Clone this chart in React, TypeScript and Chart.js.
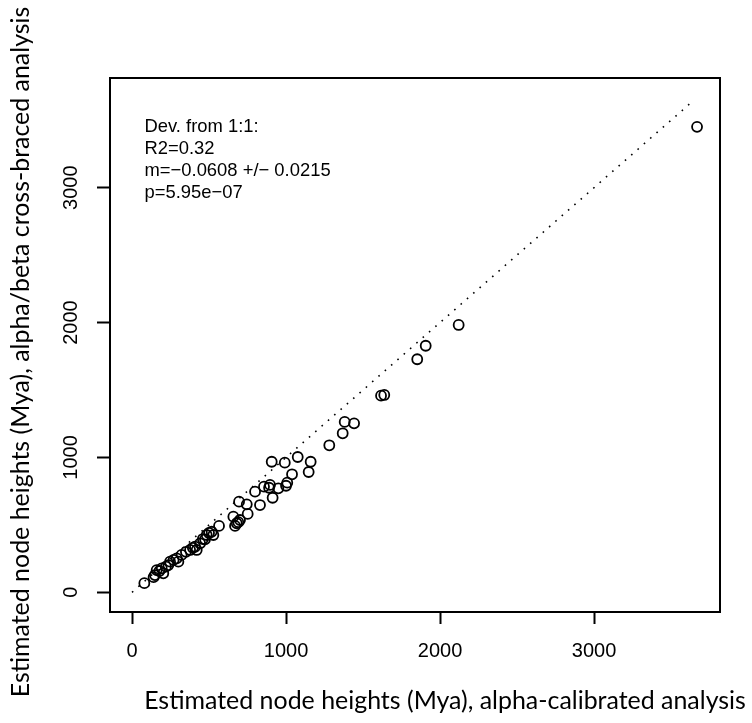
import React, { useEffect, useRef } from "react";
import { Chart, registerables } from "chart.js";

Chart.register(...registerables);

// alpha-calibrated node heights (x) vs alpha/beta cross-braced node heights (y), Mya
const X_VALUES = [
  80, 140, 149, 160, 178, 193, 203, 220, 236, 247, 270, 290, 301, 322, 350, 377,
  395, 420, 409, 442, 460, 474, 485, 528, 517, 500, 565, 658, 701, 680, 669, 690,
  695, 745, 751, 799, 831, 857, 890, 896, 907, 913, 950, 992, 1000, 1008, 1039,
  1076, 1147, 1160, 1281, 1368, 1381, 1442, 1617, 1638, 1852, 1907, 2121, 3669,
];
const Y_VALUES = [
  68, 112, 128, 165, 158, 178, 141, 190, 202, 227, 240, 252, 227, 277, 300, 314,
  330, 314, 338, 363, 395, 393, 425, 425, 449, 440, 492, 561, 536, 512, 492, 520,
  672, 652, 581, 746, 647, 783, 775, 796, 968, 701, 771, 961, 790, 813, 875,
  1003, 892, 968, 1090, 1179, 1263, 1253, 1458, 1463, 1728, 1828, 1982, 3451,
];
const ONE_TO_ONE = [0, 3650];
const TICKS = [0, 1000, 2000, 3000];
const X_RANGE = [-143, 3818];
const Y_RANGE = [-146, 3813];
const X_TITLE = "Estimated node heights (Mya), alpha-calibrated analysis";
const Y_TITLE = "Estimated node heights (Mya), alpha/beta cross-braced analysis";
const NOTE_LINES = ["Dev. from 1:1:", "R2=0.32", "m=\u22120.0608 +/\u2212 0.0215", "p=5.95e\u221207"];

const decor = {
  id: "decor",
  afterDraw(chart: any) {
    const { ctx, chartArea: a } = chart;
    ctx.save();
    ctx.strokeStyle = "#000";
    ctx.lineWidth = 2;
    ctx.strokeRect(a.left, a.top, a.right - a.left, a.bottom - a.top);

    ctx.fillStyle = "#000";
    ctx.font = '18.4px "Liberation Sans", Arial, sans-serif';
    ctx.textAlign = "left";
    ctx.textBaseline = "middle";
    NOTE_LINES.forEach((t, i) => ctx.fillText(t, a.left + 34.5, a.top + 48.7 + i * 22.2));

    ctx.font = "22px Lato";
    const w = ctx.measureText(X_TITLE).width;
    const size = (22 * 602) / w;
    ctx.font = `${size}px Lato`;
    ctx.textAlign = "center";
    ctx.textBaseline = "middle";
    ctx.fillText(X_TITLE, 445, 701);
    ctx.translate(21, 352);
    ctx.rotate(-Math.PI / 2);
    ctx.fillText(Y_TITLE, 0, 0);
    ctx.restore();
  },
};

export default function App() {
  const ref = useRef<HTMLCanvasElement | null>(null);
  useEffect(() => {
    if (!ref.current) return;
    const pts = X_VALUES.map((x, i) => ({ x, y: Y_VALUES[i] }));
    const line = ONE_TO_ONE.map((v) => ({ x: v, y: v }));
    const tickFont = { family: '"Liberation Sans", Arial, sans-serif', size: 20 };
    const chart = new Chart(ref.current, {
      type: "scatter",
      data: {
        datasets: [
          {
            data: pts,
            pointStyle: "circle",
            pointRadius: 5,
            pointBorderWidth: 1.8,
            borderColor: "#000",
            backgroundColor: "rgba(0,0,0,0)",
            pointBackgroundColor: "rgba(0,0,0,0)",
            pointBorderColor: "#000",
          },
          {
            data: line,
            showLine: true,
            pointRadius: 0,
            borderColor: "#000",
            borderWidth: 1.6,
            borderDash: [1.6, 6.8],
          } as any,
        ],
      },
      options: {
        animation: false,
        responsive: false,
        devicePixelRatio: 1,
        events: [],
        layout: { padding: { left: 0, top: 78, right: 32, bottom: 0 } },
        plugins: { legend: { display: false }, tooltip: { enabled: false }, title: { display: false } },
        scales: {
          x: {
            type: "linear",
            min: X_RANGE[0],
            max: X_RANGE[1],
            afterBuildTicks: (ax: any) => {
              ax.ticks = TICKS.map((v) => ({ value: v }));
            },
            afterFit: (ax: any) => {
              ax.height = 111;
            },
            grid: { display: true, drawOnChartArea: false, drawTicks: true, tickLength: 12, tickWidth: 2, tickColor: "#000", color: "#000" },
            border: { display: false },
            ticks: { color: "#000", font: tickFont, padding: 15, autoSkip: false, maxRotation: 0, minRotation: 0, callback: (v: any) => String(v) },
          },
          y: {
            type: "linear",
            min: Y_RANGE[0],
            max: Y_RANGE[1],
            afterBuildTicks: (ax: any) => {
              ax.ticks = TICKS.map((v) => ({ value: v }));
            },
            afterFit: (ax: any) => {
              ax.width = 110;
            },
            grid: { display: true, drawOnChartArea: false, drawTicks: true, tickLength: 13, tickWidth: 2, tickColor: "#000", color: "#000" },
            border: { display: false },
            ticks: { color: "#000", font: tickFont, padding: 3, crossAlign: "center", autoSkip: false, maxRotation: 90, minRotation: 90, callback: (v: any) => String(v) },
          },
        },
      },
      plugins: [decor],
    } as any);
    return () => chart.destroy();
  }, []);
  return (
    <div style={{ position: "absolute", left: 0, top: 0, width: 752, height: 723, background: "#fff" }}>
      <canvas ref={ref} width={752} height={723} />
    </div>
  );
}
